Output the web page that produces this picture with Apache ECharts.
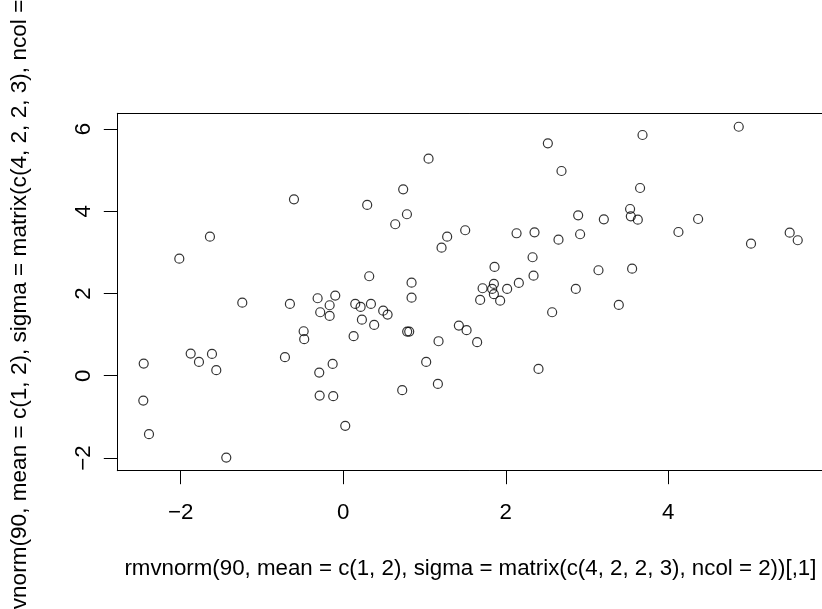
<!DOCTYPE html>
<html>
<head>
<meta charset="utf-8">
<script src="https://cdn.jsdelivr.net/npm/echarts@6/dist/echarts.min.js"></script>
<style>
  html, body { margin: 0; padding: 0; background: #fff; }
  #chart { width: 822px; height: 609px; }
</style>
</head>
<body>
<div id="chart"></div>
<script>
// Punkte
const xVals = [
  -0.606, -1.640, -2.017, 2.518, 1.050, 2.686, 0.738, 0.295, 0.784, 0.640,
  1.501, 1.279, 1.210, 2.133, 2.354, 2.649, 2.330, 1.862, 2.342, 0.320,
  0.841, 2.161, 1.854, 1.715, 1.833, 2.017, 2.862, 1.854, 0.841, 4.867,
  3.683, 3.653, 2.891, 3.207, 3.530, 3.539, 3.625, 4.367, 2.915, 4.125,
  5.018, 5.494, 5.593, 3.141, 3.555, -1.242, -0.656, -0.315, -0.098, -0.167,
  -0.283, -0.167, -0.487, -0.480, -1.877, -1.775, -1.615, -1.562, -0.717, -2.455,
  -0.130, -0.295, -0.290, -0.123, -2.460, -2.390, 0.025, -1.439, 1.685, 1.931,
  0.148, 0.214, 0.341, 0.492, 0.546, 0.230, 0.381, 0.128, 0.787, 0.812,
  1.423, 1.518, 1.648, 1.173, 2.571, 1.021, 2.403, 1.165, 0.726, 3.391
];
const yVals = [
  4.289, 3.380, 2.846, 5.650, 5.276, 4.977, 4.532, 4.151, 3.925, 3.682,
  3.536, 3.380, 3.113, 3.463, 3.487, 3.307, 2.880, 2.644, 2.433, 2.418,
  2.262, 2.255, 2.231, 2.126, 2.109, 2.109, 2.109, 1.981, 1.898, 6.053,
  5.852, 4.564, 3.900, 3.803, 4.053, 3.876, 3.793, 3.810, 3.439, 3.494,
  3.210, 3.478, 3.293, 2.564, 2.603, 1.776, 1.745, 1.883, 1.947, 1.713,
  1.543, 1.453, 1.081, 0.887, 0.537, 0.335, 0.530, 0.134, 0.450, 0.294,
  0.287, 0.075, -0.484, -0.498, -0.605, -1.422, -1.220, -1.990, 1.842, 1.825,
  1.745, 1.672, 1.745, 1.582, 1.485, 1.363, 1.235, 0.960, 1.072, 1.072,
  1.218, 1.106, 0.814, 0.838, 1.543, 0.335, 0.165, -0.199, -0.352, 1.721
];

const xTicks = [-2, 0, 2, 4];
const yTicks = [-2, 0, 2, 4, 6];

const xTitle = 'rmvnorm(90, mean = c(1, 2), sigma = matrix(c(4, 2, 2, 3), ncol = 2))[,1]';
const yTitle = 'rmvnorm(90, mean = c(1, 2), sigma = matrix(c(4, 2, 2, 3), ncol = 2))[,2]';

const punkte = xVals.map((x, i) => [x, yVals[i]]);

const schrift = "'Liberation Sans', Arial, sans-serif";
const minus = v => String(v).replace('-', '\u2212');
const linie = { show: true, onZero: false, lineStyle: { color: '#000', width: 1 } };

// nur Rahmenlinie, keine Striche/Beschriftung
function rahmenAchse(pos, min, max) {
    return {
        type: 'value', position: pos, min: min, max: max,
        axisLine: linie,
        axisTick: { show: false },
        axisLabel: { show: false },
        splitLine: { show: false }
    };
}

const chart = echarts.init(document.getElementById('chart'));
chart.setOption({
    animation: false,
    backgroundColor: '#fff',
    grid: {
        left: 117.3,
        top: 113.3,
        width: 706.2,
        height: 357.4,
        show: false,
        containLabel: false,
        outerBoundsMode: 'none'
    },
    xAxis: [{
        type: 'value',
        position: 'bottom',
        min: -2.78,
        max: 5.91,
        name: xTitle,
        nameLocation: 'middle',
        nameGap: 87,
        nameTextStyle: { color: '#000', fontSize: 22.3, fontFamily: schrift },
        axisLine: linie,
        splitLine: { show: false },
        axisTick: {
            show: true,
            length: 13.5,
            customValues: xTicks,
            lineStyle: { color: '#000', width: 1 }
        },
        axisLabel: {
            customValues: xTicks,
            margin: 31,
            color: '#000',
            fontSize: 22.3,
            fontFamily: schrift,
            formatter: minus
        }
    }, rahmenAchse('top', -2.78, 5.91)],
    yAxis: [{
        type: 'value',
        position: 'left',
        min: -2.31,
        max: 6.38,
        name: yTitle,
        nameLocation: 'middle',
        nameGap: 86,
        nameRotate: 90,
        nameTextStyle: {
            color: '#000',
            fontSize: 22.6,
            fontFamily: schrift,
            padding: [0, 0, 0, 14]
        },
        axisLine: linie,
        splitLine: { show: false },
        axisTick: {
            show: true,
            length: 13.5,
            customValues: yTicks,
            lineStyle: { color: '#000', width: 1 }
        },
        axisLabel: {
            customValues: yTicks,
            rotate: 90,
            margin: 22,
            color: '#000',
            fontSize: 22.3,
            fontFamily: schrift,
            formatter: minus
        }
    }, rahmenAchse('right', -2.31, 6.38)],
    series: [{
        type: 'scatter',
        data: punkte,
        symbol: 'circle',
        symbolSize: 9,
        silent: true,
        itemStyle: {
            color: 'rgba(0,0,0,0)',
            borderColor: '#000',
            borderWidth: 1.2
        }
    }]
});
</script>
</body>
</html>
